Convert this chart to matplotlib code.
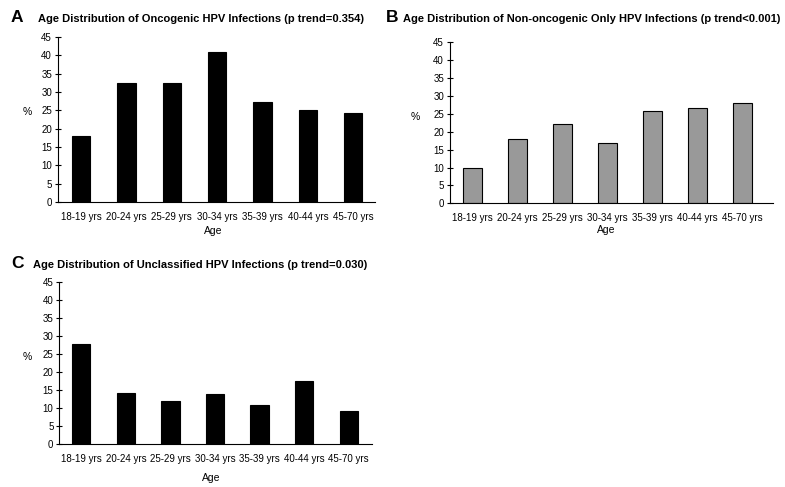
import numpy as np
import matplotlib.pyplot as plt

# ------------------- DATA -------------------
age_groups = ["18-19 yrs", "20-24 yrs", "25-29 yrs", "30-34 yrs",
              "35-39 yrs", "40-44 yrs", "45-70 yrs"]

oncogenic = [18.0, 32.4, 32.4, 40.8, 27.2, 25.2, 24.3]
non_oncogenic = [9.8, 17.9, 22.2, 16.8, 25.8, 26.5, 27.9]
unclassified = [27.9, 14.2, 12.0, 13.9, 10.7, 17.4, 9.1]

titles = ["Age Distribution of Oncogenic HPV Infections (p trend=0.354)",
          "Age Distribution of Non-oncogenic Only HPV Infections (p trend<0.001)",
          "Age Distribution of Unclassified HPV Infections (p trend=0.030)"]
letters = ["A", "B", "C"]

plt.rcParams['font.family'] = ['Liberation Sans', 'DejaVu Sans']

W, H = 785, 487


def px_axes(fig, left, right, top, bottom):
  # pixel box -> figure fraction
  return fig.add_axes([left / W, 1 - bottom / H, (right - left) / W, (bottom - top) / H])


def draw_panel(ax, values, color, xlim, width):
  x = np.arange(len(values))
  ax.bar(x, values, width=width, color=color, edgecolor='black', linewidth=0.8)
  ax.set_xlim(*xlim)
  ax.set_ylim(0, 45)
  ax.set_yticks(np.arange(0, 46, 5))
  ax.set_xticks(x)
  ax.set_xticklabels(age_groups, fontsize=7)
  ax.tick_params(axis='y', direction='inout', length=5, width=0.8, labelsize=7, pad=1.5)
  ax.tick_params(axis='x', length=0, pad=7)
  for s in ['top', 'right']:
    ax.spines[s].set_visible(False)
  for s in ['left', 'bottom']:
    ax.spines[s].set_linewidth(0.8)


fig = plt.figure(figsize=(W / 100, H / 100), dpi=100)

axA = px_axes(fig, 57.5, 375, 37, 202)
draw_panel(axA, oncogenic, 'black', (-0.52, 6.48), 0.40)

axB = px_axes(fig, 449.5, 772.5, 42.3, 203.3)
draw_panel(axB, non_oncogenic, '#999999', (-0.51, 6.67), 0.41)

axC = px_axes(fig, 59, 371.5, 282, 444)
draw_panel(axC, unclassified, 'black', (-0.5, 6.51), 0.41)

# panel letters and titles
for (lx, tx, by), letter, title in zip([(11, 38, 22), (386, 403, 22), (11, 33, 268)], letters, titles):
  fig.text(lx / W, 1 - by / H, letter, fontsize=12.5, fontweight='bold', ha='left', va='baseline')
  fig.text(tx / W, 1 - by / H, title, fontsize=8, fontweight='bold', ha='left', va='baseline')

# axis labels
for x, y in [(27, 112), (415.5, 117), (27, 357)]:
  fig.text(x / W, 1 - y / H, "%", fontsize=7.5, ha='center', va='center')
for x, y in [(213, 231), (606, 230), (211, 478)]:
  fig.text(x / W, 1 - y / H, "Age", fontsize=7.5, ha='center', va='center')

fig.savefig("out.png", dpi=100)
